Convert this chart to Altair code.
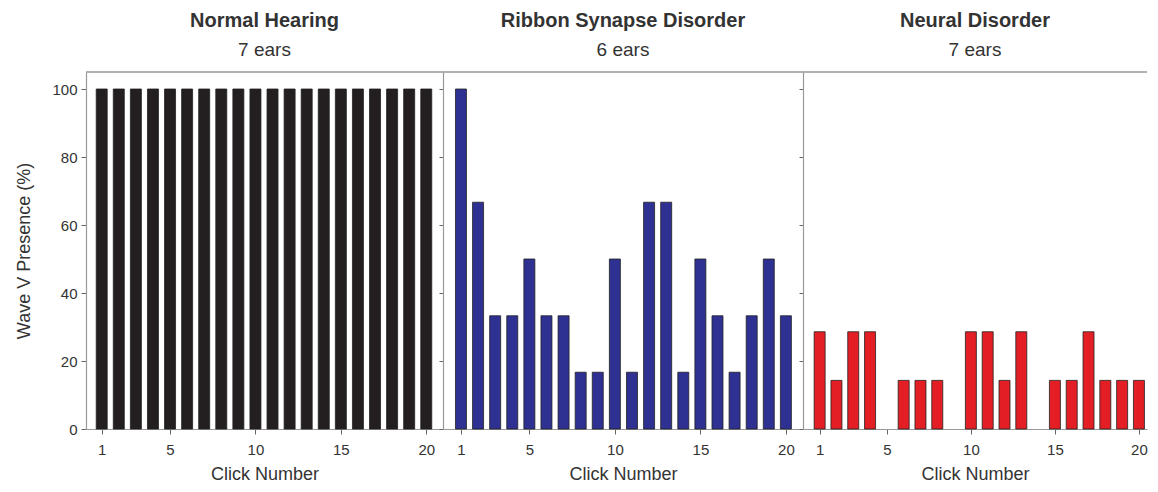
import altair as alt
import pandas as pd

# ---- data ----
clicks = list(range(1, 21))
normal_hearing = [100, 100, 100, 100, 100, 100, 100, 100, 100, 100,
                  100, 100, 100, 100, 100, 100, 100, 100, 100, 100]
ribbon_synapse = [100, 66.7, 33.3, 33.3, 50, 33.3, 33.3, 16.7, 16.7, 50,
                  16.7, 66.7, 66.7, 16.7, 50, 33.3, 16.7, 33.3, 50, 33.3]
neural = [28.6, 14.3, 28.6, 28.6, 0, 14.3, 14.3, 14.3, 0, 28.6,
          28.6, 14.3, 28.6, 0, 14.3, 14.3, 28.6, 14.3, 14.3, 14.3]

groups = ["Normal Hearing", "Ribbon Synapse Disorder", "Neural Disorder"]
ears = ["7 ears", "6 ears", "7 ears"]
series = [normal_hearing, ribbon_synapse, neural]
colors = ["#231f20", "#2e3192", "#e31e24"]
x_ticks = [1, 5, 10, 15, 20]
y_major = [0, 20, 40, 60, 80, 100]
y_minor = [0, 10, 20, 30, 40, 50, 60, 70, 80, 90, 100]
y_max = 105

FONT = "Liberation Sans"
TXT = "#333333"
FRAME = "#999999"

widths = [357, 360, 344]
x_domains = [[0.08, 20.98], [-0.05, 21.0], [0.01, 20.48]]


def panel(i):
    df = pd.DataFrame({"click": clicks, "pct": series[i]})
    if i == 0:
        yaxis = alt.Axis(values=y_major, title="Wave V Presence (%)",
                         tickSize=5, labelPadding=4, labelFontSize=15,
                         titleFontSize=18, titlePadding=18, titleFontWeight="normal")
    else:
        yaxis = alt.Axis(values=y_minor, labels=False, title=None, tickSize=4)
    xscale = alt.Scale(domain=x_domains[i], nice=False, zero=False, padding=0)
    yscale = alt.Scale(domain=[0, y_max], nice=False)
    bars = (
        alt.Chart(df)
        .transform_filter("datum.pct > 0")
        .mark_bar(size=11, color=colors[i], stroke="#222222", strokeWidth=0.8)
        .encode(
            x=alt.X("click:Q", scale=xscale,
                    axis=alt.Axis(values=x_ticks, title="Click Number",
                                  tickSize=5, labelPadding=8, labelFontSize=15,
                                  titleFontSize=18, titlePadding=8,
                                  titleFontWeight="normal")),
            y=alt.Y("pct:Q", scale=yscale, axis=yaxis),
        )
    )
    top = (
        alt.Chart(pd.DataFrame({"top": [y_max]}))
        .mark_rule(color=FRAME, strokeWidth=1.5)
        .encode(y=alt.Y("top:Q", scale=yscale))
    )
    return alt.layer(bars, top, title=alt.TitleParams(groups[i], subtitle=ears[i])).properties(
        width=widths[i], height=357
    )


chart = (
    alt.HConcatChart(hconcat=[panel(0), panel(1), panel(2)], spacing=0, bounds="flush")
    .properties(padding={"left": 7, "top": 3, "right": 0, "bottom": 0})
    .configure_view(strokeWidth=0)
    .configure_axis(labelFont=FONT, titleFont=FONT, labelColor=TXT, titleColor=TXT,
                    tickColor="#666666", domainColor=FRAME, domainWidth=1.2, grid=False)
    .configure_title(font=FONT, fontSize=20, fontWeight="bold", color=TXT,
                     subtitleFont=FONT, subtitleFontSize=19, subtitleColor=TXT,
                     subtitlePadding=10, offset=11, anchor="middle")
)

chart.save("out.html", embed_options={"renderer": "svg", "actions": False})
